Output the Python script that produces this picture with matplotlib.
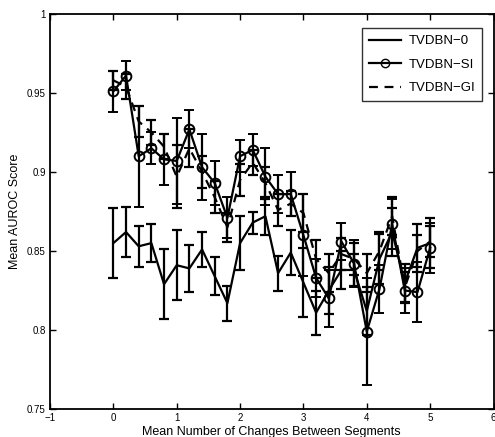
import matplotlib
matplotlib.use("Agg")
import matplotlib.pyplot as plt
from matplotlib.ticker import FixedLocator, FixedFormatter
from matplotlib.lines import Line2D

plt.rcParams['font.family'] = ['Liberation Sans', 'DejaVu Sans']

x = [0.0, 0.2, 0.4, 0.6, 0.8, 1.0, 1.2, 1.4, 1.6, 1.8, 2.0, 2.2, 2.4,
     2.6, 2.8, 3.0, 3.2, 3.4, 3.6, 3.8, 4.0, 4.2, 4.4, 4.6, 4.8, 5.0]

tv0 = [0.855, 0.862, 0.853, 0.855, 0.829, 0.841, 0.839, 0.851, 0.834, 0.817,
       0.855, 0.868, 0.872, 0.836, 0.849, 0.830, 0.811, 0.825, 0.838, 0.838,
       0.812, 0.845, 0.862, 0.830, 0.852, 0.855]
tv0_err = [0.022, 0.016, 0.013, 0.012, 0.022, 0.022, 0.015, 0.011, 0.012, 0.011,
           0.017, 0.007, 0.012, 0.011, 0.014, 0.022, 0.014, 0.015, 0.012, 0.010,
           0.015, 0.016, 0.015, 0.012, 0.015, 0.016]

si = [0.951, 0.961, 0.910, 0.915, 0.908, 0.907, 0.927, 0.903, 0.893, 0.871,
      0.910, 0.914, 0.897, 0.886, 0.886, 0.860, 0.833, 0.820, 0.856, 0.842,
      0.799, 0.826, 0.867, 0.825, 0.824, 0.852]
si_err = [0.013, 0.009, 0.032, 0.010, 0.016, 0.027, 0.012, 0.021, 0.014, 0.013,
          0.010, 0.010, 0.018, 0.012, 0.014, 0.026, 0.012, 0.018, 0.012, 0.015,
          0.034, 0.015, 0.016, 0.014, 0.019, 0.016]

gi = [0.958, 0.954, 0.932, 0.925, 0.916, 0.897, 0.915, 0.900, 0.884, 0.865,
      0.895, 0.906, 0.893, 0.876, 0.880, 0.874, 0.845, 0.836, 0.848, 0.845,
      0.836, 0.850, 0.872, 0.827, 0.850, 0.856]
gi_err = [0.006, 0.008, 0.010, 0.008, 0.008, 0.020, 0.012, 0.010, 0.010, 0.009,
          0.010, 0.008, 0.010, 0.010, 0.008, 0.012, 0.012, 0.012, 0.010, 0.010,
          0.012, 0.012, 0.012, 0.010, 0.010, 0.010]

labels = ['TVDBN\u22120', 'TVDBN\u2212SI', 'TVDBN\u2212GI']
xticks = [-1, 0, 1, 2, 3, 4, 5, 6]
xticklabels = ['\u22121', '0', '1', '2', '3', '4', '5', '6']
yticks = [0.75, 0.8, 0.85, 0.9, 0.95, 1.0]
yticklabels = ['0.75', '0.8', '0.85', '0.9', '0.95', '1']

fig = plt.figure(figsize=(4.95, 4.37), dpi=100)
ax = fig.add_axes([0.101, 0.064, 0.896, 0.904])

lw = 1.6
ax.errorbar(x, tv0, yerr=tv0_err, color='black', lw=lw, capsize=3.5,
            capthick=lw, elinewidth=lw, label=labels[0])
ax.errorbar(x, si, yerr=si_err, color='black', lw=lw, capsize=3.5,
            capthick=lw, elinewidth=lw, marker='o', markersize=7,
            markerfacecolor='none', markeredgewidth=1.4, label=labels[1])
ax.errorbar(x, gi, yerr=gi_err, color='black', lw=lw, capsize=3.5,
            capthick=lw, elinewidth=lw, linestyle=(0, (4, 3)), label=labels[2])

ax.set_xlim(-1, 6)
ax.set_ylim(0.75, 1.0)
ax.xaxis.set_major_locator(FixedLocator(xticks))
ax.xaxis.set_major_formatter(FixedFormatter(xticklabels))
ax.yaxis.set_major_locator(FixedLocator(yticks))
ax.yaxis.set_major_formatter(FixedFormatter(yticklabels))
ax.tick_params(direction='in', top=True, right=True, labelsize=7, length=4,
               width=1, pad=3)
for s in ax.spines.values():
    s.set_linewidth(1.3)

ax.set_xlabel('Mean Number of Changes Between Segments', fontsize=9, labelpad=2)
ax.set_ylabel('Mean AUROC Score', fontsize=9, labelpad=4)

h = [Line2D([], [], color='black', lw=lw),
     Line2D([], [], color='black', lw=lw, marker='o', markerfacecolor='none',
            markersize=6),
     Line2D([], [], color='black', lw=lw, linestyle=(0, (4, 3)))]
leg = ax.legend(h, labels, loc='upper right', fontsize=9.5, frameon=True,
                fancybox=False, edgecolor='black', handlelength=2.4,
                handletextpad=0.6, bbox_to_anchor=(0.975, 0.965),
                borderaxespad=0.0, labelspacing=0.85, borderpad=0.55)
leg.get_frame().set_linewidth(1.0)

fig.savefig('out.png', dpi=100)
